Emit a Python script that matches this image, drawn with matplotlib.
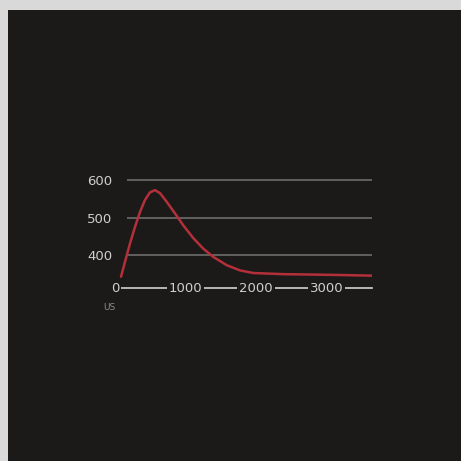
import matplotlib
matplotlib.use("Agg")
import matplotlib.pyplot as plt
from matplotlib.patches import Rectangle

# Data (time in microseconds, value)
time_us = [85, 142, 213, 284, 355, 426, 496, 567, 638, 733, 851, 969, 1111, 1252, 1394,
           1584, 1773, 1962, 2387, 3096, 3645]
values = [342, 382, 431, 475, 515, 547, 567, 573, 565, 542, 511, 479, 445, 417, 395,
          373, 359, 352, 349, 347, 345]
x_ticks = [0, 1000, 2000, 3000]
x_tick_labels = ["0", "1000", "2000", "3000"]
y_ticks = [400, 500, 600]
y_tick_labels = ["400", "500", "600"]
unit_label = "US"

W = H = 461
bg_page = "#d9d9d9"
bg_screen = "#1c1a18"
txt = "#cfcfcf"
grid_c = "#616060"
line_c = "#b3303a"

fig = plt.figure(figsize=(W / 100, H / 100), dpi=100, facecolor=bg_page)
fig.patches.append(Rectangle((8 / W, 0), 1 - 8 / W, 1 - 10 / H, transform=fig.transFigure,
                             facecolor=bg_screen, edgecolor="none", zorder=-10))

# axes placement (pixels): x 115..372, y 172.5..294.4
x_left, x_right = 115, 372.3
y_top, y_bot = 172.5, 294.4
ax = fig.add_axes([x_left / W, 1 - y_bot / H, (x_right - x_left) / W, (y_bot - y_top) / H])
ax.set_facecolor("none")
ax.set_xlim(0, 3650)
ax.set_ylim(295, 620)

for s in ["top", "right", "left"]:
    ax.spines[s].set_visible(False)
ax.spines["bottom"].set_position(("data", 311))
ax.spines["bottom"].set_color("#c4c4c4")
ax.spines["bottom"].set_linewidth(1.3)
ax.spines["bottom"].set_zorder(2)
ax.xaxis.set_zorder(4)

for yv in y_ticks:
    ax.hlines(yv, 170, 3650, color=grid_c, lw=1.4, zorder=1)

ax.plot(time_us, values, color=line_c, lw=1.8, zorder=3, solid_capstyle="round",
        solid_joinstyle="round")

ax.set_yticks(y_ticks)
ax.set_yticklabels(y_tick_labels)
ax.set_xticks(x_ticks)
ax.set_xticklabels(x_tick_labels)
ax.tick_params(axis="y", length=0, pad=2, labelsize=9.5, labelcolor=txt)
ax.tick_params(axis="x", length=0, pad=-4.3, labelsize=9.5, labelcolor=txt)
for lab in ax.get_xticklabels():
    lab.set_bbox(dict(facecolor=bg_screen, edgecolor="none", pad=1.2))

ax.annotate(unit_label, xy=(0, 311), xytext=(-4, -13.5), textcoords="offset points",
            ha="center", va="center", fontsize=6.5, color="#8c8c8c")

fig.savefig("out.png", dpi=100, facecolor=bg_page)
